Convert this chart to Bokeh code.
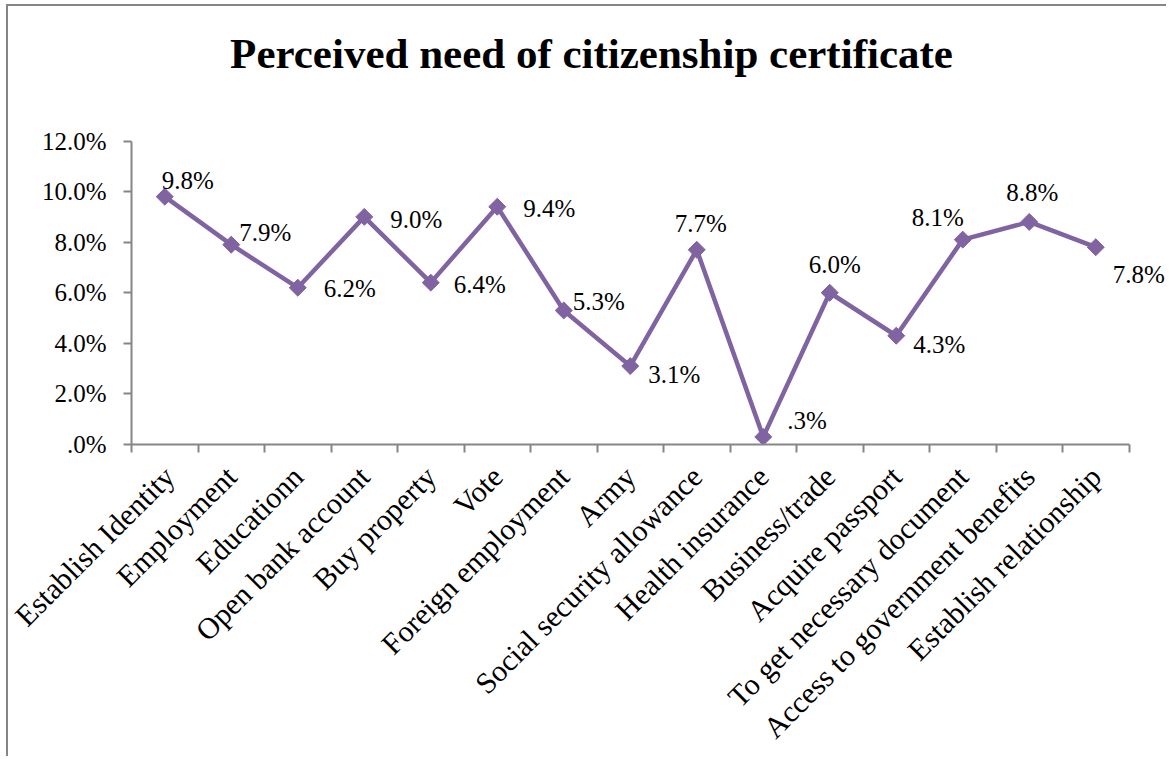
import math
from bokeh.plotting import figure
from bokeh.models import Range1d, FixedTicker, ColumnDataSource, LabelSet, Label
from bokeh.embed import file_html
from bokeh.resources import INLINE

# ---- data ----
categories = [
    "Establish Identity", "Employment", "Educationn", "Open bank account",
    "Buy property", "Vote", "Foreign employment", "Army",
    "Social security allowance", "Health insurance", "Business/trade",
    "Acquire passport", "To get necessary document",
    "Access to government benefits", "Establish relationship",
]
values = [9.8, 7.9, 6.2, 9.0, 6.4, 9.4, 5.3, 3.1, 7.7, 0.3, 6.0, 4.3, 8.1, 8.8, 7.8]
y_ticks = [0, 2, 4, 6, 8, 10, 12]
title_text = "Perceived need of citizenship certificate"

# label placement (screen pixel offsets from each point; left edge, vertical middle, up positive)
label_dx = [-3, 8, 26, 26, 23, 26, 9, 18, -22, 24, -21, 17, -51, -23, 17]
label_dy = [16, 12, -1, -3, -2, -2, 9, -8, 26, 16, 28, -9, 22, 29, -27]


def pct(v):
    s = f"{v:.1f}%"
    return s[1:] if s.startswith("0") else s


FONT = "Liberation Serif"
PURPLE = "#8064A2"
GRAY = "#868686"

N = len(categories)
xs = [i + 0.5 for i in range(N)]
Y_MAX = 12

# frame extends to the right and top edges of the canvas so that the title and
# outer labels are not clipped; axes are bounded to the data extent.
W, H = 1160, 752
LEFT, BOTTOM = 123, 314
px_per_x = 997.5 / N
px_per_y = 303.5 / Y_MAX
x_end = (W - LEFT) / px_per_x
y_end = (H - BOTTOM) / px_per_y

p = figure(
    width=W, height=H,
    x_range=Range1d(0, x_end), y_range=Range1d(0, y_end),
    output_backend="svg", toolbar_location=None,
    min_border_left=LEFT, min_border_right=0,
    min_border_top=0, min_border_bottom=BOTTOM,
)
p.styles = {
    "margin-left": "6px", "margin-top": "4px",
    "border-left": f"2px solid {GRAY}", "border-top": f"2px solid {GRAY}",
}
p.outline_line_color = None
p.grid.visible = False
p.background_fill_color = "white"
p.border_fill_color = "white"

# x axis
xa = p.xaxis[0]
xa.bounds = (0, N)
xa.ticker = FixedTicker(ticks=xs, minor_ticks=list(range(N + 1)))
xa.major_label_overrides = {x: c for x, c in zip(xs, categories)}
xa.major_tick_line_color = None
xa.major_tick_out = 8
xa.major_tick_in = 0
xa.minor_tick_line_color = GRAY
xa.minor_tick_line_width = 2
xa.minor_tick_out = 8
xa.minor_tick_in = 0
xa.axis_line_color = GRAY
xa.axis_line_width = 2
xa.major_label_orientation = math.pi / 4
xa.major_label_standoff = 19
xa.major_label_text_font = FONT
xa.major_label_text_font_size = "30px"
xa.major_label_text_color = "black"

# y axis
ya = p.yaxis[0]
ya.bounds = (0, Y_MAX)
ya.ticker = FixedTicker(ticks=y_ticks, minor_ticks=[])
ya.major_label_overrides = {t: pct(t) for t in y_ticks}
ya.major_tick_line_color = GRAY
ya.major_tick_line_width = 2
ya.major_tick_out = 8
ya.major_tick_in = 0
ya.minor_tick_line_color = None
ya.axis_line_color = GRAY
ya.axis_line_width = 2
ya.major_label_standoff = 17
ya.major_label_text_font = FONT
ya.major_label_text_font_size = "25px"
ya.major_label_text_color = "black"

# series
p.line(xs, values, line_color=PURPLE, line_width=4.5)
p.scatter(xs, values, marker="square", angle=math.pi / 4, size=12,
          fill_color=PURPLE, line_color=PURPLE)

src = ColumnDataSource(dict(x=xs, y=values, text=[pct(v) for v in values],
                            xo=label_dx, yo=label_dy))
p.add_layout(LabelSet(x="x", y="y", text="text", source=src,
                      x_offset="xo", y_offset="yo",
                      text_align="left", text_baseline="middle",
                      text_font=FONT, text_font_size="25px", text_color="black"))

p.add_layout(Label(x=(591 - 131) / px_per_x, y=(444 - 53) / px_per_y,
                   text=title_text, text_align="center",
                   text_baseline="alphabetic", text_font=FONT,
                   text_font_size="43px", text_font_style="bold",
                   text_color="black"))

open("out.html", "w").write(file_html(p, INLINE))
